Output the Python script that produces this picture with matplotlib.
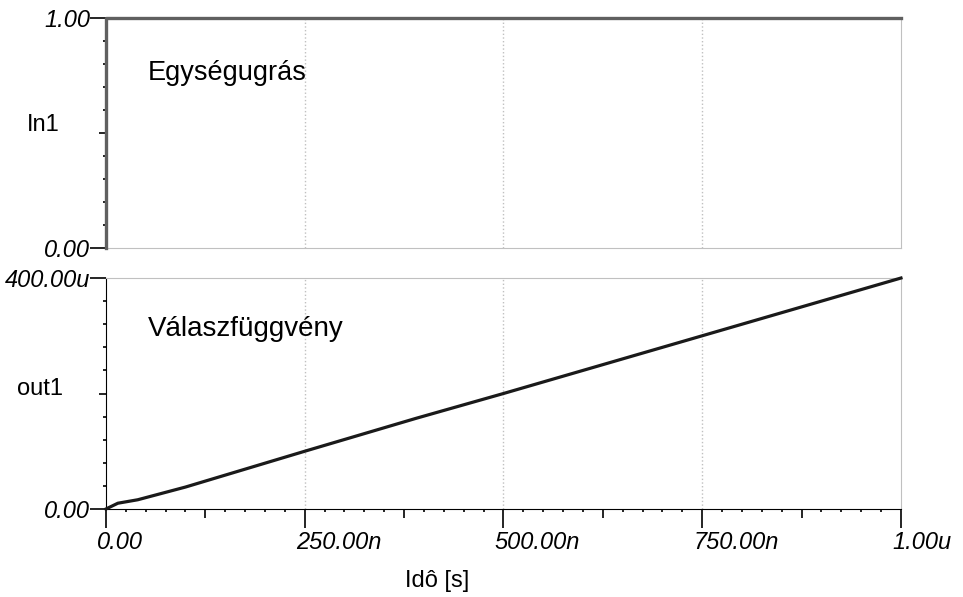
import matplotlib.pyplot as plt
from matplotlib.ticker import MultipleLocator
from matplotlib.transforms import ScaledTranslation

plt.rcParams['font.family'] = ['Liberation Sans', 'DejaVu Sans']

# data (time in ns)
t_step = [0, 0, 1000]
in1 = [0, 1, 1]
t_out = [0, 15, 40, 100, 250, 390, 500, 750, 1000]
out1 = [0, 10, 16, 38, 100, 157, 200, 300, 400]  # in u

x_ticks = [0, 125, 250, 375, 500, 625, 750, 875, 1000]
x_labels = ['0.00', '', '250.00n', '', '500.00n', '', '750.00n', '', '1.00u']
x_grid = [250, 500, 750]

fig = plt.figure(figsize=(9.63, 5.97), dpi=100)
ax1 = fig.add_axes([0.110, 0.5846, 0.8256, 0.3853])
ax2 = fig.add_axes([0.110, 0.1474, 0.8256, 0.3869])

light = '#c0c0c0'

# top panel
ax1.plot(t_step, in1, color='#606060', lw=2.4, clip_on=False, zorder=5)
ax1.set_xlim(0, 1000)
ax1.set_ylim(0, 1)
for g in x_grid:
    ax1.axvline(g, color=light, lw=1, ls=':')
ax1.set_xticks([])
ax1.set_yticks([0, 0.5, 1], ['0.00', '', '1.00'])
ax1.yaxis.set_minor_locator(MultipleLocator(0.1))
for s in ['top', 'right', 'bottom']:
    ax1.spines[s].set_color(light)
ax1.spines['left'].set_color('#606060')
ax1.text(0.053, 0.76, 'Egységugrás', transform=ax1.transAxes, fontsize=19.5, va='center')
ax1.set_ylabel('In1', rotation=0, fontsize=17, va='center', ha='center')
ax1.yaxis.set_label_coords(-0.079, 0.535)

# bottom panel
ax2.plot(t_out, out1, color='#1a1a1a', lw=2.3, zorder=5, clip_on=False)
ax2.set_xlim(0, 1000)
ax2.set_ylim(0, 400)
for g in x_grid:
    ax2.axvline(g, color=light, lw=1, ls=':')
ax2.set_yticks([0, 200, 400], ['0.00', '', '400.00u'])
ax2.yaxis.set_minor_locator(MultipleLocator(40))
ax2.set_xticks(x_ticks, x_labels)
ax2.xaxis.set_minor_locator(MultipleLocator(25))
for s in ['top', 'right']:
    ax2.spines[s].set_color(light)
ax2.text(0.053, 0.78, 'Válaszfüggvény', transform=ax2.transAxes, fontsize=20, va='center')
ax2.set_ylabel('out1', rotation=0, fontsize=17, va='center', ha='center')
ax2.yaxis.set_label_coords(-0.0825, 0.52)
ax2.set_xlabel('Idô [s]', fontsize=17, va='center')
ax2.xaxis.set_label_coords(0.416, -0.31)

for ax in (ax1, ax2):
    ax.tick_params(axis='y', which='major', length=11.5, width=1.2, labelsize=17, pad=0)
    ax.tick_params(axis='y', which='minor', length=2.5, width=1.2)
    for lab in ax.get_yticklabels():
        lab.set_fontstyle('italic')
    ax.yaxis.get_major_ticks()[1].tick1line.set_markersize(5)
ax2.tick_params(axis='x', which='major', length=13.5, width=1.2, labelsize=17, pad=2.5)
ax2.tick_params(axis='x', which='minor', length=2.5, width=1.2)
for i, tk in enumerate(ax2.xaxis.get_major_ticks()):
    if i % 2 == 1:
        tk.tick1line.set_markersize(6.5)
off = ScaledTranslation(-9 / 100, 0, fig.dpi_scale_trans)
for lab in ax2.get_xticklabels():
    lab.set_fontstyle('italic')
    lab.set_ha('left')
    lab.set_transform(lab.get_transform() + off)

fig.savefig('out.png', dpi=100)
